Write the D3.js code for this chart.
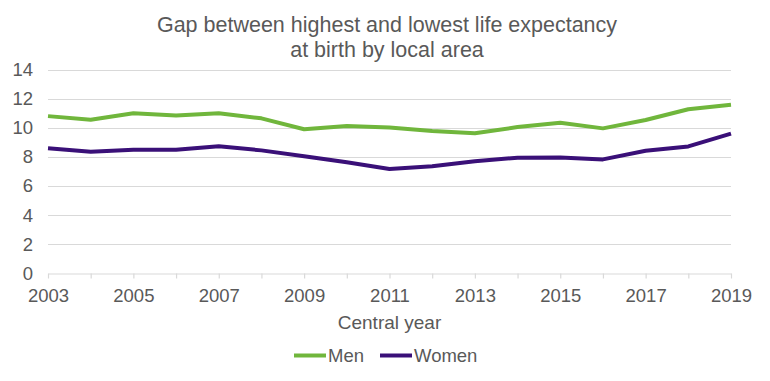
<!DOCTYPE html>
<html>
<head>
<meta charset="utf-8">
<script src="https://cdn.jsdelivr.net/npm/d3@7"></script>
<style>
  html, body { margin: 0; padding: 0; background: #fff; }
  svg { display: block; font-family: "Liberation Sans", Arial, sans-serif; }
</style>
</head>
<body>
<svg id="chart" width="770" height="381"></svg>
<script>
const years = [2003, 2004, 2005, 2006, 2007, 2008, 2009, 2010, 2011, 2012, 2013, 2014, 2015, 2016, 2017, 2018, 2019];
const men   = [10.8, 10.55, 11.0, 10.85, 11.0, 10.65, 9.9, 10.12, 10.02, 9.78, 9.62, 10.05, 10.35, 9.96, 10.53, 11.27, 11.58];
const women = [8.6, 8.36, 8.5, 8.5, 8.73, 8.45, 8.05, 7.63, 7.17, 7.36, 7.7, 7.95, 7.96, 7.83, 8.42, 8.72, 9.6];
const yTicks = [0, 2, 4, 6, 8, 10, 12, 14];
const xTickLabels = [2003, 2005, 2007, 2009, 2011, 2013, 2015, 2017, 2019];
const seriesNames = ["Men", "Women"];
const seriesColors = ["#70b63c", "#3a1078"];
const titleLines = ["Gap between highest and lowest life expectancy", "at birth by local area"];
const xTitle = "Central year";

const svg = d3.select("#chart");
const plotLeft = 48, plotRight = 731, plotTop = 69.5, plotBottom = 273.5;
const textColor = "#595959";
const gridColor = "#d9d9d9";

const x = d3.scaleLinear().domain([2003, 2019]).range([plotLeft, plotRight]);
const y = d3.scaleLinear().domain([0, 14]).range([plotBottom, plotTop]);

// Title
svg.append("g").selectAll("text").data(titleLines).join("text")
  .attr("x", 387).attr("y", (d, i) => 31.5 + i * 25.5)
  .attr("text-anchor", "middle").attr("fill", textColor)
  .style("font-size", "21.5px").text(d => d);

// Gridlines
svg.append("g").selectAll("line").data(yTicks.filter(d => d > 0)).join("line")
  .attr("x1", plotLeft).attr("x2", plotRight)
  .attr("y1", d => Math.round(y(d)) + 0.5).attr("y2", d => Math.round(y(d)) + 0.5)
  .attr("stroke", gridColor).attr("stroke-width", 1.2);

// Y axis labels
const yAxis = d3.axisLeft(y).tickValues(yTicks).tickSize(0).tickPadding(15);
const gy = svg.append("g").attr("transform", `translate(${plotLeft},0)`).call(yAxis);
gy.select(".domain").remove();
gy.selectAll("text").attr("fill", textColor).style("font-size", "18.5px")
  .style("font-family", "'Liberation Sans', Arial, sans-serif");

// X axis
const xAxis = d3.axisBottom(x).tickValues(years).tickSize(5).tickPadding(10)
  .tickFormat(d => xTickLabels.includes(d) ? String(d) : "").tickSizeOuter(0);
const gx = svg.append("g").attr("transform", `translate(0,${plotBottom})`).call(xAxis);
gx.select(".domain").attr("stroke", gridColor).attr("stroke-width", 1.2);
gx.selectAll(".tick line").attr("stroke", gridColor).attr("stroke-width", 1.2);
gx.selectAll("text").attr("fill", textColor).style("font-size", "18.5px")
  .style("font-family", "'Liberation Sans', Arial, sans-serif");

// X title
svg.append("text").attr("x", (plotLeft + plotRight) / 2).attr("y", 329)
  .attr("text-anchor", "middle").attr("fill", textColor)
  .style("font-size", "19px").text(xTitle);

// Lines
const line = d3.line().x((d, i) => x(years[i])).y(d => y(d));
[men, women].forEach((vals, k) => {
  svg.append("path").datum(vals)
    .attr("d", line).attr("fill", "none")
    .attr("stroke", seriesColors[k]).attr("stroke-width", 4)
    .attr("stroke-linejoin", "round").attr("stroke-linecap", "butt");
});

// Legend
const legendX = [294, 380];
const lg = svg.append("g");
seriesNames.forEach((name, k) => {
  lg.append("line").attr("x1", legendX[k]).attr("x2", legendX[k] + 32)
    .attr("y1", 355.5).attr("y2", 355.5)
    .attr("stroke", seriesColors[k]).attr("stroke-width", 4);
  lg.append("text").attr("x", legendX[k] + 34).attr("y", 362)
    .attr("fill", textColor).style("font-size", "18.5px").text(name);
});
</script>
</body>
</html>
